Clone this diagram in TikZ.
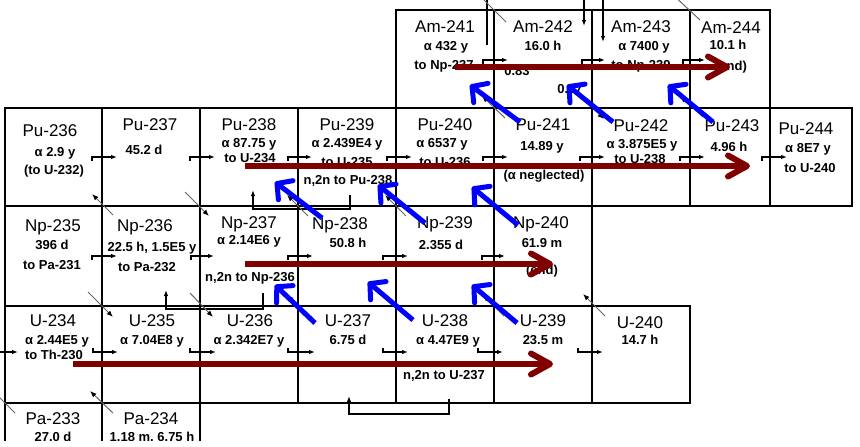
\documentclass[tikz,border=0pt]{standalone}
\usepackage{fontspec}
\setmainfont{Liberation Sans}
\usetikzlibrary{arrows.meta}
\definecolor{chainred}{RGB}{128,0,0}
\definecolor{chainblue}{RGB}{0,0,255}
\begin{document}
\begin{tikzpicture}[x=1pt,y=-1pt,
  cell/.style={draw, line width=1.6pt, inner sep=0pt, rectangle},
  nm/.style={anchor=base, inner sep=0pt, yshift=-6pt, font=\fontsize{17}{20}\selectfont},
  sm/.style={anchor=base, inner sep=0pt, yshift=-4.6pt, font=\fontsize{13}{15}\selectfont\bfseries},
  sarr/.style={line width=1.1pt, -{Latex[length=6pt,width=4.5pt]}},
  plain/.style={line width=1.1pt},
  betaarr/.style={draw=black!60, line width=1pt, -{Latex[length=6.5pt,width=5pt,black]}},
  redarr/.style={draw=chainred, line width=6pt, -{Straight Barb[length=19pt,width=21pt,round]}},
  bluearr/.style={draw=chainblue, line width=5pt, -{Straight Barb[length=11pt,width=24pt,round]}}
]
\useasboundingbox (0,0) rectangle (860,447);
\clip (0,0) rectangle (860,440);

% ---------- cells ----------
\foreach \n/\x/\w in {am241/445/98, am242/543/98, am243/641/98, am244/730/80}
  \node[cell, minimum width=\w, minimum height=98] (\n) at (\x,59) {};
\foreach \n/\x/\w in {pu236/53.5/97, pu237/151/98, pu238/249/98, pu239/347/98, pu240/445/98, pu241/543/98, pu242/641/98, pu243/730/80, pu244/811/82}
  \node[cell, minimum width=\w, minimum height=98] (\n) at (\x,157) {};
\foreach \n/\x/\w in {np235/53.5/97, np236/151/98, np237/249/98, np238/347/98, np239/445/98, np240/543/98}
  \node[cell, minimum width=\w, minimum height=100] (\n) at (\x,256) {};
\foreach \n/\x/\w in {u234/53.5/97, u235/151/98, u236/249/98, u237/347/98, u238/445/98, u239/543/98, u240/641/98}
  \node[cell, minimum width=\w, minimum height=97] (\n) at (\x,354.5) {};
\foreach \n/\x/\w in {pa233/53.5/97, pa234/151/98}
  \node[cell, minimum width=\w, minimum height=47] (\n) at (\x,426.5) {};

% ---------- texts: Am ----------
\node[nm] (am241a) at (445,26) {Am-241};
\node[sm] (am241b) at (446,46) {α 432 y};
\node[sm] (am241c) at (444,65) {to Np-237};
\node[nm] (am242a) at (543,26) {Am-242};
\node[sm] (am242b) at (543,46) {16.0 h};
\node[sm] (am242c) at (517,71) {0.83};
\node[sm] (am242d) at (570,89) {0.17};
\node[nm] (am243a) at (641,26) {Am-243};
\node[sm] (am243b) at (644,46) {α 7400 y};
\node[sm] (am243c) at (641,65) {to Np-239};
\node[nm] (am244a) at (731,27) {Am-244};
\node[sm] (am244b) at (728,45) {10.1 h};
\node[sm] (am244c) at (731,66) {(end)};

% ---------- texts: Pu ----------
\node[nm] (pu236a) at (50,130) {Pu-236};
\node[sm] (pu236b) at (55,152) {α 2.9 y};
\node[sm] (pu236c) at (54,170) {(to U-232)};
\node[nm] (pu237a) at (150,124) {Pu-237};
\node[sm] (pu237b) at (144,150) {45.2 d};
\node[nm] (pu238a) at (249,124) {Pu-238};
\node[sm] (pu238b) at (249,143) {α 87.75 y};
\node[sm] (pu238c) at (250,158) {to U-234};
\node[nm] (pu239a) at (347,124) {Pu-239};
\node[sm] (pu239b) at (347,143) {α 2.439E4 y};
\node[sm] (pu239c) at (347,162) {to U-235};
\node[sm] (pu239d) at (348,180) {n,2n to Pu-238};
\node[nm] (pu240a) at (445,124) {Pu-240};
\node[sm] (pu240b) at (442,143) {α 6537 y};
\node[sm] (pu240c) at (445,162) {to U-236};
\node[nm] (pu241a) at (543,124) {Pu-241};
\node[sm] (pu241b) at (542,146) {14.89 y};
\node[sm] (pu241c) at (544,175) {(α neglected)};
\node[nm] (pu242a) at (641,125) {Pu-242};
\node[sm] (pu242b) at (642,144) {α 3.875E5 y};
\node[sm] (pu242c) at (640,159) {to U-238};
\node[nm] (pu243a) at (732,125) {Pu-243};
\node[sm] (pu243b) at (729,147) {4.96 h};
\node[nm] (pu244a) at (806,128) {Pu-244};
\node[sm] (pu244b) at (808,148) {α 8E7 y};
\node[sm] (pu244c) at (810,168) {to U-240};

% ---------- texts: Np ----------
\node[nm] (np235a) at (53,225) {Np-235};
\node[sm] (np235b) at (52,245) {396 d};
\node[sm] (np235c) at (52,265) {to Pa-231};
\node[nm] (np236a) at (145,225) {Np-236};
\node[sm] (np236b) at (152,247) {22.5 h, 1.5E5 y};
\node[sm] (np236c) at (147,267) {to Pa-232};
\node[nm] (np237a) at (249,222) {Np-237};
\node[sm] (np237b) at (249,240) {α 2.14E6 y};
\node[sm] (np237c) at (250,277) {n,2n to Np-236};
\node[nm] (np238a) at (340,223) {Np-238};
\node[sm] (np238b) at (348,243) {50.8 h};
\node[nm] (np239a) at (445,222) {Np-239};
\node[sm] (np239b) at (441,245) {2.355 d};
\node[nm] (np240a) at (541,222) {Np-240};
\node[sm] (np240b) at (542,243) {61.9 m};
\node[sm] (np240c) at (542,270) {(end)};

% ---------- texts: U ----------
\node[nm] (u234a) at (53,320) {U-234};
\node[sm] (u234b) at (57,340) {α 2.44E5 y};
\node[sm] (u234c) at (54,355) {to Th-230};
\node[nm] (u235a) at (152,320) {U-235};
\node[sm] (u235b) at (152,340) {α 7.04E8 y};
\node[nm] (u236a) at (250,320) {U-236};
\node[sm] (u236b) at (249,340) {α 2.342E7 y};
\node[nm] (u237a) at (348,320) {U-237};
\node[sm] (u237b) at (348,340) {6.75 d};
\node[nm] (u238a) at (445,320) {U-238};
\node[sm] (u238b) at (448,340) {α 4.47E9 y};
\node[sm] (u238c) at (444,375) {n,2n to U-237};
\node[nm] (u239a) at (543,320) {U-239};
\node[sm] (u239b) at (543,340) {23.5 m};
\node[nm] (u240a) at (640,322) {U-240};
\node[sm] (u240b) at (640,340) {14.7 h};

% ---------- texts: Pa ----------
\node[nm] (pa233a) at (53,418) {Pa-233};
\node[sm] (pa233b) at (53,437) {27.0 d};
\node[nm] (pa234a) at (151,418) {Pa-234};
\node[sm] (pa234b) at (152,437) {1.18 m, 6.75 h};

% ---------- small capture arrows ----------
\foreach \a/\b in {483/508, 582/605, 683/705}
  \draw[sarr] (\a,64) -- (\a,60) -- (\b,60);
\foreach \a/\b in {92/117, 190/215, 288/312, 387/412, 483/508, 580/605, 680/705, 762/787}
  \draw[sarr] (\a,161) -- (\a,157) -- (\b,157);
\foreach \a/\b in {92/117, 191/214, 288/313, 383/408, 482/505}
  \draw[sarr] (\a,260) -- (\a,256) -- (\b,256);
\foreach \a/\b in {93/118, 190/216, 288/315, 383/408, 478/503, 578/603}
  \draw[sarr] (\a,348) -- (\a,352) -- (\b,352);
\coordinate (uin) at (-2,352);
\draw[sarr] (uin) -- (18,352);

% ---------- top stubs ----------
\coordinate (t1) at (487,0); \coordinate (t2) at (584,0); \coordinate (t3) at (603,0);
\draw[plain] (t1) -- (487,45);
\draw[sarr] (t2) -- (584,26);
\draw[sarr] (t3) -- (603,42);

% ---------- n,2n brackets ----------
\draw[sarr] (350,195) -- (350,209) -- (253,209) -- (253,190);
\draw[sarr] (263,293) -- (263,309) -- (166,309) -- (166,290);
\draw[sarr] (449,399) -- (449,414) -- (349,414) -- (349,396);

% ---------- beta / EC diagonals ----------
\draw[betaarr] (113,215) -- (92,194);
\draw[betaarr] (185,192) -- (209,216);
\draw[betaarr] (88,292) -- (113,317);
\draw[betaarr] (190,293) -- (213,317);
\draw[betaarr] (113,413) -- (90,391);
\draw[betaarr] (15,413) -- (-6,392);
\draw[betaarr] (605,316) -- (583,294);
\draw[betaarr] (506,22) -- (478,-6);
\draw[betaarr] (700,20) -- (672,-6);
\draw[betaarr] (505,118) -- (482,96);
\draw[betaarr] (580,96) -- (604,119);
\draw[betaarr] (703,117) -- (680,96);
\draw[betaarr] (308,216) -- (287,195);
\draw[betaarr] (406,216) -- (385,195);
\draw[betaarr] (504,216) -- (483,195);
\draw[betaarr] (308,316) -- (287,295);
\draw[betaarr] (504,316) -- (483,295);

% ---------- chain overlays ----------
\draw[redarr] (455,67) -- (730,67);
\draw[redarr] (245,166) -- (750,166);
\draw[redarr] (245,264) -- (553,264);
\draw[redarr] (73,364) -- (553,364);

\draw[bluearr] (520,122) -- (470,85);
\draw[bluearr] (613,122) -- (567,85);
\draw[bluearr] (713,122) -- (668,85);
\draw[bluearr] (322,218) -- (275,182);
\draw[bluearr] (425,223) -- (378,185);
\draw[bluearr] (518,225) -- (472,187);
\draw[bluearr] (315,323) -- (275,285);
\draw[bluearr] (413,320) -- (368,282);
\draw[bluearr] (517,323) -- (472,285);
\end{tikzpicture}
\end{document}
